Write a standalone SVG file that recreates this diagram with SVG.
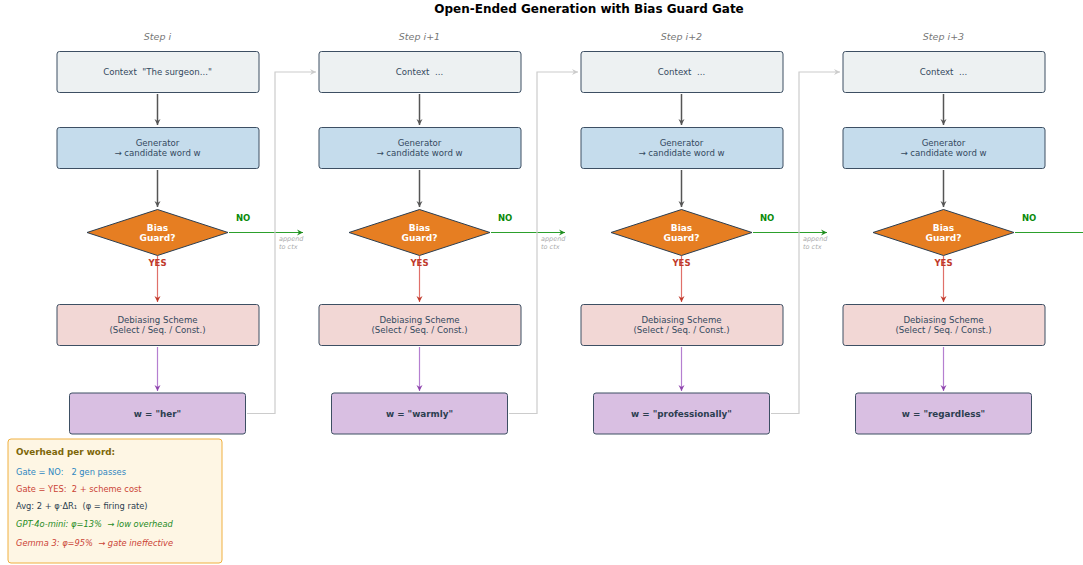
<svg xmlns="http://www.w3.org/2000/svg" width="1083" height="565" viewBox="0 0 1083 565">
<defs>
<style>
text{font-family:"DejaVu Sans","Liberation Sans",sans-serif;white-space:pre;}
.box{stroke:#3d4f63;stroke-width:1;}
.ctx{fill:#edf1f2;}
.gen{fill:#c5dcec;}
.deb{fill:#f2d7d5;}
.wbox{fill:#d9bfe2;}
.dia{fill:#e67e22;stroke:#2c3e50;stroke-width:1;}
.nt{font-size:8.6px;fill:#34495e;text-anchor:middle;}
.wt{font-size:8.8px;fill:#2c3e50;text-anchor:middle;font-weight:bold;}
.dt{font-size:9px;fill:#ffffff;text-anchor:middle;font-weight:bold;}
.step{font-size:9.5px;fill:#777;font-style:italic;text-anchor:middle;}
.no{font-size:8.5px;fill:#0a8a0a;font-weight:bold;}
.yes{font-size:8.5px;fill:#c0392b;font-weight:bold;text-anchor:middle;}
.app{font-size:6.5px;fill:#aaaaaa;font-style:italic;}
.a-dark{stroke:#555;stroke-width:1.5;fill:none;}
.a-red{stroke:#e0706a;stroke-width:1.2;fill:none;}
.a-pur{stroke:#b57fd0;stroke-width:1.2;fill:none;}
.a-grn{stroke:#2ca02c;stroke-width:1.2;fill:none;}
.a-gry{stroke:#cccccc;stroke-width:1.2;fill:none;}
.lg{font-size:8.3px;}
</style>
<marker id="mDark" markerWidth="8" markerHeight="8" refX="7" refY="4" orient="auto" markerUnits="userSpaceOnUse"><path d="M1,1 L7,4 L1,7 L3,4 Z" fill="#555"/></marker>
<marker id="mRed" markerWidth="8" markerHeight="8" refX="7" refY="4" orient="auto" markerUnits="userSpaceOnUse"><path d="M1,1 L7,4 L1,7 L3,4 Z" fill="#c0392b"/></marker>
<marker id="mPur" markerWidth="8" markerHeight="8" refX="7" refY="4" orient="auto" markerUnits="userSpaceOnUse"><path d="M1,1 L7,4 L1,7 L3,4 Z" fill="#8e44ad"/></marker>
<marker id="mGrn" markerWidth="8" markerHeight="8" refX="7" refY="4" orient="auto" markerUnits="userSpaceOnUse"><path d="M1,1 L7,4 L1,7 L3,4 Z" fill="#1e8c1e"/></marker>
<marker id="mGry" markerWidth="8" markerHeight="8" refX="7" refY="4" orient="auto" markerUnits="userSpaceOnUse"><path d="M1,1 L7,4 L1,7 L3,4 Z" fill="#cccccc"/></marker>
</defs>
<rect width="1083" height="565" fill="#ffffff"/>
<text x="589" y="13" font-size="12" font-weight="bold" text-anchor="middle" fill="#000">Open-Ended Generation with Bias Guard Gate</text>

<g id="connectors">
<line class="a-dark" x1="157.5" y1="94" x2="157.5" y2="125" marker-end="url(#mDark)"/>
<line class="a-dark" x1="157.5" y1="170" x2="157.5" y2="207" marker-end="url(#mDark)"/>
<line class="a-red" x1="157.5" y1="256" x2="157.5" y2="302" marker-end="url(#mRed)"/>
<line class="a-pur" x1="157.5" y1="347" x2="157.5" y2="391" marker-end="url(#mPur)"/>
<line class="a-grn" x1="229" y1="232.5" x2="303" y2="232.5" marker-end="url(#mGrn)"/>
<polyline class="a-gry" points="247,413.5 275,413.5 275,72 316,72" marker-end="url(#mGry)"/>
<line class="a-dark" x1="419.5" y1="94" x2="419.5" y2="125" marker-end="url(#mDark)"/>
<line class="a-dark" x1="419.5" y1="170" x2="419.5" y2="207" marker-end="url(#mDark)"/>
<line class="a-red" x1="419.5" y1="256" x2="419.5" y2="302" marker-end="url(#mRed)"/>
<line class="a-pur" x1="419.5" y1="347" x2="419.5" y2="391" marker-end="url(#mPur)"/>
<line class="a-grn" x1="491" y1="232.5" x2="565" y2="232.5" marker-end="url(#mGrn)"/>
<polyline class="a-gry" points="509,413.5 537,413.5 537,72 578,72" marker-end="url(#mGry)"/>
<line class="a-dark" x1="681.5" y1="94" x2="681.5" y2="125" marker-end="url(#mDark)"/>
<line class="a-dark" x1="681.5" y1="170" x2="681.5" y2="207" marker-end="url(#mDark)"/>
<line class="a-red" x1="681.5" y1="256" x2="681.5" y2="302" marker-end="url(#mRed)"/>
<line class="a-pur" x1="681.5" y1="347" x2="681.5" y2="391" marker-end="url(#mPur)"/>
<line class="a-grn" x1="753" y1="232.5" x2="827" y2="232.5" marker-end="url(#mGrn)"/>
<polyline class="a-gry" points="771,413.5 799,413.5 799,72 840,72" marker-end="url(#mGry)"/>
<line class="a-dark" x1="943.5" y1="94" x2="943.5" y2="125" marker-end="url(#mDark)"/>
<line class="a-dark" x1="943.5" y1="170" x2="943.5" y2="207" marker-end="url(#mDark)"/>
<line class="a-red" x1="943.5" y1="256" x2="943.5" y2="302" marker-end="url(#mRed)"/>
<line class="a-pur" x1="943.5" y1="347" x2="943.5" y2="391" marker-end="url(#mPur)"/>
<line class="a-grn" x1="1015" y1="232.5" x2="1090" y2="232.5"/>
<text class="no" x="236" y="221">NO</text>
<text class="no" x="498" y="221">NO</text>
<text class="no" x="760" y="221">NO</text>
<text class="no" x="1022" y="221">NO</text>
<text class="yes" x="157.5" y="266">YES</text>
<text class="yes" x="419.5" y="266">YES</text>
<text class="yes" x="681.5" y="266">YES</text>
<text class="yes" x="943.5" y="266">YES</text>
<text class="app" x="279" y="241">append</text><text class="app" x="279" y="249">to ctx</text>
<text class="app" x="541" y="241">append</text><text class="app" x="541" y="249">to ctx</text>
<text class="app" x="803" y="241">append</text><text class="app" x="803" y="249">to ctx</text>
</g>

<text class="step" x="157.5" y="40">Step i</text>
<text class="step" x="419.5" y="40">Step i+1</text>
<text class="step" x="681.5" y="40">Step i+2</text>
<text class="step" x="943.5" y="40">Step i+3</text>

<g id="ctx1"><rect class="box ctx" x="57" y="51.5" width="202" height="41" rx="2.5"/><text class="nt" x="157.5" y="75">Context  "The surgeon..."</text></g>
<g id="gen1"><rect class="box gen" x="57" y="127.5" width="202" height="41" rx="2.5"/><text class="nt" x="157.5" y="146">Generator</text><text class="nt" x="157.5" y="156">→ candidate word w</text></g>
<g id="gate1"><polygon class="dia" points="157.5,209.5 228,232.5 157.5,255.5 87,232.5"/><text class="dt" x="157.5" y="231">Bias</text><text class="dt" x="157.5" y="241">Guard?</text></g>
<g id="deb1"><rect class="box deb" x="57" y="304.5" width="202" height="41" rx="2.5"/><text class="nt" x="157.5" y="323">Debiasing Scheme</text><text class="nt" x="157.5" y="333">(Select / Seq. / Const.)</text></g>
<g id="w1"><rect class="box wbox" x="69.5" y="393" width="176" height="41" rx="2.5"/><text class="wt" x="157.5" y="416.5">w = "her"</text></g>

<g id="ctx2"><rect class="box ctx" x="319" y="51.5" width="202" height="41" rx="2.5"/><text class="nt" x="419.5" y="75">Context  ...</text></g>
<g id="gen2"><rect class="box gen" x="319" y="127.5" width="202" height="41" rx="2.5"/><text class="nt" x="419.5" y="146">Generator</text><text class="nt" x="419.5" y="156">→ candidate word w</text></g>
<g id="gate2"><polygon class="dia" points="419.5,209.5 490,232.5 419.5,255.5 349,232.5"/><text class="dt" x="419.5" y="231">Bias</text><text class="dt" x="419.5" y="241">Guard?</text></g>
<g id="deb2"><rect class="box deb" x="319" y="304.5" width="202" height="41" rx="2.5"/><text class="nt" x="419.5" y="323">Debiasing Scheme</text><text class="nt" x="419.5" y="333">(Select / Seq. / Const.)</text></g>
<g id="w2"><rect class="box wbox" x="331.5" y="393" width="176" height="41" rx="2.5"/><text class="wt" x="419.5" y="416.5">w = "warmly"</text></g>

<g id="ctx3"><rect class="box ctx" x="581" y="51.5" width="202" height="41" rx="2.5"/><text class="nt" x="681.5" y="75">Context  ...</text></g>
<g id="gen3"><rect class="box gen" x="581" y="127.5" width="202" height="41" rx="2.5"/><text class="nt" x="681.5" y="146">Generator</text><text class="nt" x="681.5" y="156">→ candidate word w</text></g>
<g id="gate3"><polygon class="dia" points="681.5,209.5 752,232.5 681.5,255.5 611,232.5"/><text class="dt" x="681.5" y="231">Bias</text><text class="dt" x="681.5" y="241">Guard?</text></g>
<g id="deb3"><rect class="box deb" x="581" y="304.5" width="202" height="41" rx="2.5"/><text class="nt" x="681.5" y="323">Debiasing Scheme</text><text class="nt" x="681.5" y="333">(Select / Seq. / Const.)</text></g>
<g id="w3"><rect class="box wbox" x="593.5" y="393" width="176" height="41" rx="2.5"/><text class="wt" x="681.5" y="416.5">w = "professionally"</text></g>

<g id="ctx4"><rect class="box ctx" x="843" y="51.5" width="202" height="41" rx="2.5"/><text class="nt" x="943.5" y="75">Context  ...</text></g>
<g id="gen4"><rect class="box gen" x="843" y="127.5" width="202" height="41" rx="2.5"/><text class="nt" x="943.5" y="146">Generator</text><text class="nt" x="943.5" y="156">→ candidate word w</text></g>
<g id="gate4"><polygon class="dia" points="943.5,209.5 1014,232.5 943.5,255.5 873,232.5"/><text class="dt" x="943.5" y="231">Bias</text><text class="dt" x="943.5" y="241">Guard?</text></g>
<g id="deb4"><rect class="box deb" x="843" y="304.5" width="202" height="41" rx="2.5"/><text class="nt" x="943.5" y="323">Debiasing Scheme</text><text class="nt" x="943.5" y="333">(Select / Seq. / Const.)</text></g>
<g id="w4"><rect class="box wbox" x="855.5" y="393" width="176" height="41" rx="2.5"/><text class="wt" x="943.5" y="416.5">w = "regardless"</text></g>

<g id="legend">
<rect x="8" y="439" width="214" height="124" rx="3" fill="#fef6e4" stroke="#f0b040" stroke-width="1"/>
<text x="16" y="455" font-weight="bold" fill="#7d6608" font-size="8.8">Overhead per word:</text>
<text class="lg" x="16" y="475" fill="#2e86c1">Gate = NO:   2 gen passes</text>
<text class="lg" x="16" y="492" fill="#cb4335">Gate = YES:  2 + scheme cost</text>
<text class="lg" x="16" y="509" fill="#2c3e50">Avg: 2 + φ·ΔR₁  (φ = firing rate)</text>
<text class="lg" x="16" y="527" fill="#1e8c1e" font-style="italic">GPT-4o-mini: φ=13%  → low overhead</text>
<text class="lg" x="16" y="546" fill="#cb4335" font-style="italic">Gemma 3: φ=95%  → gate ineffective</text>
</g>
</svg>
